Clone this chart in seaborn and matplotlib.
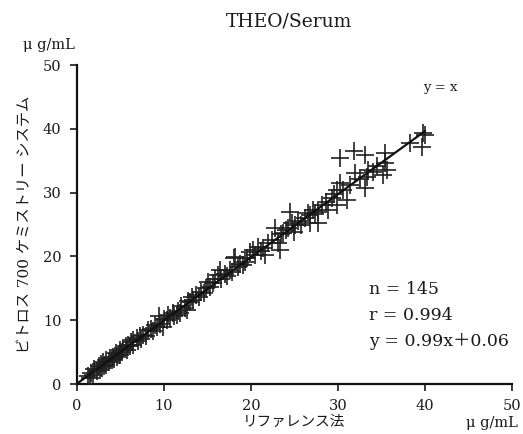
import matplotlib
matplotlib.use("Agg")
import matplotlib.pyplot as plt
import numpy as np
import pandas as pd
import seaborn as sns

# reference method (x) vs Vitros 700 (y), ug/mL
ref_low = [1.3, 1.5, 1.6, 1.8, 2.0, 2.3, 2.5, 2.6, 2.8, 2.9, 3.0, 3.1, 3.3, 3.4,
           3.7, 3.8, 4.0, 4.1, 4.3, 4.5, 4.6, 4.8, 4.9, 5.0, 5.2, 5.3, 5.6, 5.8,
           5.9, 6.1, 6.2, 6.4, 6.5, 6.9, 7.0, 7.2, 7.4, 7.6, 7.9, 8.2, 8.5, 8.7,
           9.0, 9.2, 9.4, 9.6, 9.9, 10.0, 10.3, 10.5, 10.7, 11.0, 11.2, 11.5,
           11.6, 11.8, 12.0, 12.4, 12.6, 12.8, 13.0, 13.2, 13.4, 13.7, 14.0,
           14.3, 14.6, 14.8]
vit_low = [1.2, 1.0, 1.8, 1.5, 2.3, 2.0, 2.8, 2.2, 3.1, 2.5, 3.4, 2.8, 3.0, 3.8,
           3.5, 4.1, 3.7, 4.3, 4.0, 4.8, 4.2, 4.6, 5.3, 4.5, 5.0, 5.6, 5.9, 5.4,
           6.2, 6.0, 6.6, 6.1, 6.9, 7.2, 6.8, 7.5, 7.1, 7.7, 7.6, 8.4, 8.6, 8.3,
           9.2, 8.9, 10.6, 9.4, 8.9, 10.2, 10.0, 10.8, 10.4, 11.2, 10.7, 10.8,
           11.5, 11.1, 12.3, 12.0, 11.6, 13.1, 12.9, 13.6, 13.2, 13.9, 13.7,
           14.5, 14.3, 15.0]
ref_mid = [15.1, 15.3, 15.6, 15.9, 16.2, 16.4, 16.6, 17.0, 17.3, 17.6, 17.8, 18.0,
           18.2, 18.5, 18.8, 19.1, 19.3, 19.6, 19.9, 20.2, 20.5, 20.8, 21.1, 21.4,
           21.6, 22.0, 22.4, 22.8, 23.1, 23.3, 23.5, 23.7, 24.0, 24.3, 24.5, 24.7,
           24.9]
vit_mid = [16.0, 15.2, 15.8, 16.4, 17.1, 17.9, 16.5, 17.3, 17.0, 17.9, 17.5, 19.7,
           19.9, 18.3, 18.9, 18.6, 19.2, 19.8, 20.7, 21.0, 20.2, 21.5, 20.8, 21.3,
           20.2, 22.1, 22.6, 24.5, 22.1, 21.0, 23.5, 23.7, 24.2, 24.5, 27.0, 25.2,
           23.8]
ref_high = [25.1, 25.4, 25.8, 26.2, 26.6, 26.8, 26.8, 27.1, 27.4, 27.7, 27.7, 28.2,
            28.6, 28.9, 29.3, 29.6, 29.9, 29.9, 30.2, 30.2, 30.6, 31.0, 31.4, 31.8,
            32.0, 32.5, 33.1, 33.1, 33.3, 33.4, 34.0, 34.5, 35.2, 35.4, 35.4, 35.6,
            38.3, 39.7, 39.8, 40.0]
vit_high = [24.9, 25.6, 25.0, 26.0, 26.8, 25.2, 26.5, 27.3, 26.7, 27.0, 25.2, 28.0,
            28.5, 27.3, 29.2, 29.8, 30.4, 28.1, 31.5, 35.4, 30.5, 28.8, 31.2, 36.5,
            33.1, 32.2, 35.9, 30.7, 32.5, 33.5, 33.2, 34.2, 32.8, 36.2, 34.6, 33.5,
            37.8, 37.1, 39.3, 39.0]

slope = 0.99
intercept = 0.06
fit_range = [0, 40]

df = pd.DataFrame({"ref": ref_low + ref_mid + ref_high,
                   "vitros": vit_low + vit_mid + vit_high})
fit = pd.DataFrame({"x": fit_range,
                    "y": [slope * v + intercept for v in fit_range]})

sns.set_style("ticks")
plt.rcParams["font.family"] = ["DejaVu Serif", "Noto Sans CJK JP"]
ink = "#1a1a1a"

fig = plt.figure(figsize=(5.23, 4.34), dpi=100)
ax = fig.add_axes([0.147, 0.115, 0.832, 0.735])

sns.scatterplot(data=df, x="ref", y="vitros", marker="+", s=150,
                color="#202020", linewidth=1.2, ax=ax, zorder=3)
sns.lineplot(data=fit, x="x", y="y", color="#111111", linewidth=1.6, ax=ax,
             zorder=4)

ax.set_xlim(0, 50)
ax.set_ylim(0, 50)
ax.set_xticks(range(0, 51, 10))
ax.set_yticks(range(0, 51, 10))
ax.tick_params(direction="out", length=5, width=1.2, labelsize=10.5,
               colors=ink, pad=6)
sns.despine(ax=ax)
for sp in ("left", "bottom"):
    ax.spines[sp].set_linewidth(1.6)
    ax.spines[sp].set_color("#111111")

ax.set_xlabel("リファレンス法", fontsize=10.5, color=ink, labelpad=1)
ax.set_ylabel("ビトロス 700 ケミストリー システム", fontsize=11,
              color=ink, labelpad=8)

fig.text(289 / 523, 1 - 22 / 434, "THEO/Serum", ha="center", va="center",
         fontsize=13.5, color=ink)
fig.text(75 / 523, 1 - 45 / 434, "μ g/mL", ha="right", va="center",
         fontsize=10.5, color=ink)
fig.text(518 / 523, 1 - 423 / 434, "μ g/mL", ha="right", va="center",
         fontsize=10.5, color=ink)
fig.text(440 / 523, 1 - 88 / 434, "y = x", ha="center", va="center",
         fontsize=9.5, color=ink)
for txt, py in [("n = 145", 290), ("r = 0.994", 316),
                ("y = 0.99x＋0.06", 342)]:
    fig.text(369 / 523, 1 - py / 434, txt, ha="left", va="center",
             fontsize=12.5, color=ink)

fig.savefig("out.png", dpi=100)
